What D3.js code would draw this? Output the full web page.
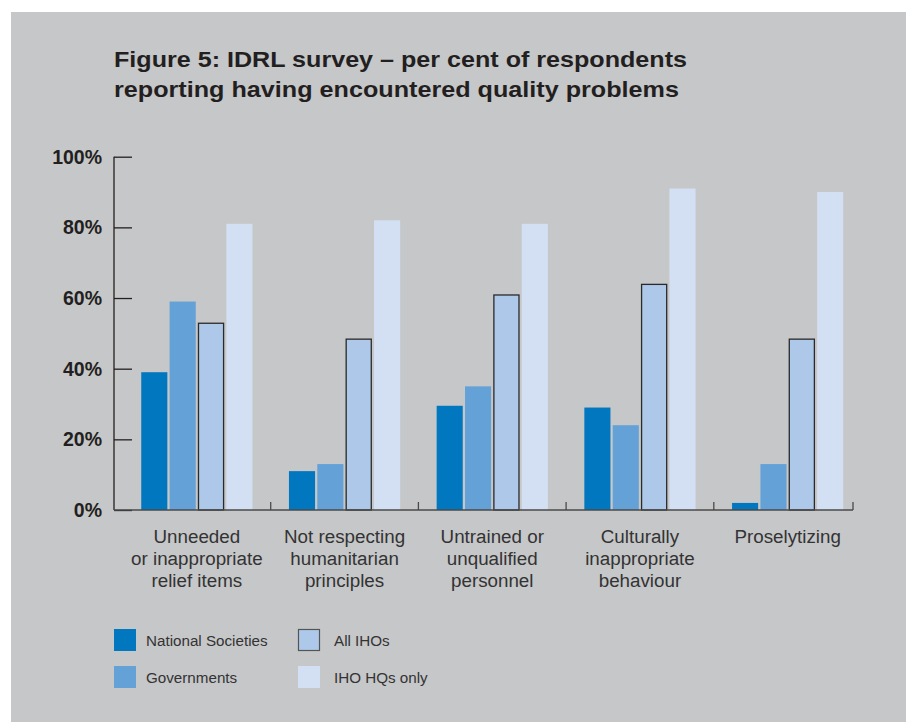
<!DOCTYPE html>
<html><head><meta charset="utf-8">
<script src="https://cdn.jsdelivr.net/npm/d3@7"></script>
<style>body{margin:0;background:#fff;}svg{display:block;font-family:"Liberation Sans",Arial,sans-serif;}</style>
</head><body><svg id="c" width="906" height="722"></svg>
<script>
const categories = [
  ["Unneeded","or inappropriate","relief items"],
  ["Not respecting","humanitarian","principles"],
  ["Untrained or","unqualified","personnel"],
  ["Culturally","inappropriate","behaviour"],
  ["Proselytizing"]
];
const seriesNames = ["National Societies","Governments","All IHOs","IHO HQs only"];
const nationalSocieties = [39, 11, 29.5, 29, 2];
const governments = [59, 13, 35, 24, 13];
const allIHOs = [53, 48.5, 61, 64, 48.5];
const ihoHQsOnly = [81, 82, 81, 91, 90];
const yTicks = [0, 20, 40, 60, 80, 100];
const titleLines = ["Figure 5: IDRL survey – per cent of respondents","reporting having encountered quality problems"];

const colors = ["#0077be","#64a1d7","#aec8ea","#d3e0f3"];
const strokes = [null,null,"#2a2a2a",null];
const seriesValues = [nationalSocieties, governments, allIHOs, ihoHQsOnly];

const svg = d3.select("#c");
svg.append("rect").attr("x",11).attr("y",12).attr("width",895).attr("height",710).attr("fill","#c6c7c9");

svg.append("g").selectAll("text").data(titleLines).join("text")
  .attr("x",114).attr("y",(d,i)=>67+i*30)
  .attr("font-size",22.5).attr("font-weight","bold").attr("fill","#231f20")
  .attr("textLength",(d,i)=>i===0?573:565).attr("lengthAdjust","spacingAndGlyphs")
  .text(d=>d);

const y = d3.scaleLinear().domain([0,100]).range([510,156.7]);
const x = d3.scaleBand().domain(d3.range(categories.length)).range([123,861.5]);
const xi = d3.scaleBand().domain(d3.range(seriesNames.length)).range([-55.6,55.6]).paddingInner(0.08);

// bars
const g = svg.append("g");
categories.forEach((c,ci)=>{
  const cx = x(ci)+x.bandwidth()/2;
  seriesValues.forEach((vals,si)=>{
    const r = g.append("rect")
      .attr("x",cx+xi(si)).attr("width",xi.bandwidth())
      .attr("y",y(vals[ci])).attr("height",y(0)-y(vals[ci]))
      .attr("fill",colors[si]);
    if(strokes[si]) r.attr("x",cx+xi(si)+0.5).attr("width",xi.bandwidth()-1)
      .attr("y",y(vals[ci])+0.5).attr("height",y(0)-y(vals[ci])-0.5)
      .attr("stroke",strokes[si]).attr("stroke-width",1.3);
  });
});

// y axis
const yAxis = d3.axisRight(y).tickValues(yTicks).tickSize(18).tickFormat("");
const ya = svg.append("g").attr("transform","translate(114,0)").call(yAxis);
ya.select(".domain").remove();
ya.selectAll("line").attr("stroke","#231f20").attr("stroke-width",1.3);
svg.append("line").attr("x1",114).attr("x2",114).attr("y1",y(100)).attr("y2",y(0)).attr("stroke","#231f20").attr("stroke-width",1.3);
svg.append("g").selectAll("text").data(yTicks).join("text")
  .attr("x",102).attr("y",d=>y(d)+7).attr("text-anchor","end")
  .attr("font-size",19.5).attr("font-weight","bold").attr("fill","#231f20")
  .text(d=>d+"%");

// x axis
svg.append("line").attr("x1",114).attr("x2",853).attr("y1",y(0)).attr("y2",y(0)).attr("stroke","#4a4a4a").attr("stroke-width",1.3);
const bounds = d3.range(1,categories.length).map(i=>x(i)).concat([853]);
svg.append("g").selectAll("line").data(bounds).join("line")
  .attr("x1",d=>d).attr("x2",d=>d).attr("y1",y(0)).attr("y2",y(0)-8)
  .attr("stroke","#4a4a4a").attr("stroke-width",1.3);

// category labels
categories.forEach((lines,ci)=>{
  const cx = x(ci)+x.bandwidth()/2;
  svg.append("g").selectAll("text").data(lines).join("text")
    .attr("x",cx).attr("y",(d,i)=>543+i*22).attr("text-anchor","middle")
    .attr("font-size",18.8).attr("fill","#333").text(d=>d);
});

// legend
const legPos = [[114,629],[114,666],[298,629],[298,666]];
seriesNames.forEach((n,si)=>{
  const [lx,ly] = legPos[si];
  const r = svg.append("rect").attr("x",lx).attr("y",ly).attr("width",22).attr("height",22).attr("fill",colors[si]);
  if(strokes[si]) r.attr("x",lx+0.5).attr("y",ly+0.5).attr("width",21).attr("height",21).attr("stroke","#555").attr("stroke-width",1.2);
  svg.append("text").attr("x",lx+(si<2?32:36)).attr("y",ly+16.5).attr("font-size",15.2).attr("fill","#333").text(n);
});
</script></body></html>
